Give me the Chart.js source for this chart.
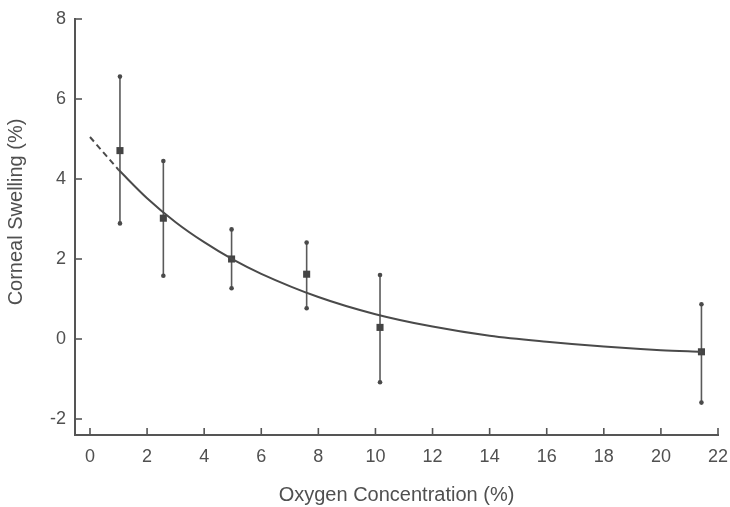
<!DOCTYPE html>
<html>
<head>
<meta charset="utf-8">
<script src="https://cdn.jsdelivr.net/npm/chart.js@4"></script>
<style>
  html, body { margin: 0; padding: 0; background: #ffffff; }
  #c { display: block; }
</style>
</head>
<body>
<canvas id="c" width="730" height="507"></canvas>
<script>
// ---- data ----
const oxygen   = [1.05, 2.57, 4.96, 7.59, 10.16, 21.42];
const swelling = [4.71, 3.02, 2.00, 1.62, 0.29, -0.32];
const errHigh  = [6.56, 4.45, 2.74, 2.41, 1.60, 0.87];
const errLow   = [2.89, 1.58, 1.27, 0.77, -1.08, -1.59];

// fitted curve
const fitX      = [1, 2, 3, 4, 5, 6, 8, 10, 12, 14, 16, 18, 20, 21.42];
const fitY      = [4.23, 3.52, 2.92, 2.42, 1.99, 1.63, 1.05, 0.62, 0.31, 0.08, -0.07, -0.19, -0.28, -0.32];
const dashX     = [0, 1];
const dashY     = [5.05, 4.23];

const xTicks = [0, 2, 4, 6, 8, 10, 12, 14, 16, 18, 20, 22];
const yTicks = [-2, 0, 2, 4, 6, 8];

const xTitle = 'Oxygen Concentration (%)';
const yTitle = 'Corneal Swelling (%)';

// ---- styling ----
const INK = '#4a4a4a';
const TEXT = '#505050';
const FONT = "'Liberation Sans', Arial, Helvetica, sans-serif";

const toPts = (xs, ys) => xs.map((x, i) => ({ x: x, y: ys[i] }));

const errorBars = {
  id: 'errorBars',
  beforeDatasetsDraw(chart) {
    const { ctx, scales: { x, y } } = chart;
    ctx.save();
    ctx.strokeStyle = '#5a5a5a';
    ctx.fillStyle = '#4a4a4a';
    ctx.lineWidth = 1.6;
    oxygen.forEach((ox, i) => {
      const px = x.getPixelForValue(ox);
      const pTop = y.getPixelForValue(errHigh[i]);
      const pBot = y.getPixelForValue(errLow[i]);
      ctx.beginPath();
      ctx.moveTo(px, pTop);
      ctx.lineTo(px, pBot);
      ctx.stroke();
      [pTop, pBot].forEach(py => {
        ctx.beginPath();
        ctx.arc(px, py, 2.3, 0, Math.PI * 2);
        ctx.fill();
      });
    });
    ctx.restore();
  }
};

const inwardTicks = {
  id: 'inwardTicks',
  afterDraw(chart) {
    const { ctx, chartArea: a, scales: { x, y } } = chart;
    ctx.save();
    ctx.strokeStyle = '#555';
    ctx.lineWidth = 1.6;
    x.ticks.forEach(t => {
      const px = x.getPixelForValue(t.value);
      ctx.beginPath();
      ctx.moveTo(px, a.bottom);
      ctx.lineTo(px, a.bottom - 7);
      ctx.stroke();
    });
    y.ticks.forEach(t => {
      const py = y.getPixelForValue(t.value);
      ctx.beginPath();
      ctx.moveTo(a.left, py);
      ctx.lineTo(a.left + 7, py);
      ctx.stroke();
    });
    // y-axis title
    ctx.fillStyle = TEXT;
    ctx.font = '20px ' + FONT;
    ctx.textAlign = 'center';
    ctx.textBaseline = 'middle';
    ctx.translate(16, 212);
    ctx.rotate(-Math.PI / 2);
    ctx.fillText(yTitle, 0, 0);
    ctx.restore();
  }
};

new Chart(document.getElementById('c'), {
  type: 'scatter',
  data: {
    datasets: [
      {
        type: 'line',
        data: toPts(fitX, fitY),
        borderColor: INK,
        borderWidth: 2,
        pointRadius: 0,
        fill: false,
        cubicInterpolationMode: 'monotone'
      },
      {
        type: 'line',
        data: toPts(dashX, dashY),
        borderColor: INK,
        borderWidth: 2,
        borderDash: [6, 4],
        pointRadius: 0,
        fill: false
      },
      {
        data: toPts(oxygen, swelling),
        pointStyle: 'rect',
        pointRadius: 5,
        backgroundColor: '#444',
        borderColor: '#444',
        borderWidth: 0
      }
    ]
  },
  options: {
    responsive: false,
    devicePixelRatio: 1,
    animation: false,
    layout: { padding: { top: 19, right: 12, left: 0, bottom: 0 } },
    plugins: { legend: { display: false }, tooltip: { enabled: false } },
    scales: {
      x: {
        type: 'linear',
        min: -0.525,
        max: 22,
        afterBuildTicks: s => { s.ticks = xTicks.map(v => ({ value: v })); },
        afterFit: s => { s.height = 72; s.paddingLeft = 0; s.paddingRight = 0; },
        grid: { drawOnChartArea: false, drawTicks: false },
        border: { display: true, color: '#555', width: 2 },
        ticks: { color: TEXT, font: { family: FONT, size: 18 }, padding: 11, maxRotation: 0, autoSkip: false },
        title: { display: true, text: xTitle, color: TEXT, font: { family: FONT, size: 20 }, padding: { top: 0, bottom: 0 } }
      },
      y: {
        type: 'linear',
        min: -2.4,
        max: 8,
        afterBuildTicks: s => { s.ticks = yTicks.map(v => ({ value: v })); },
        afterFit: s => { s.width = 75; s.paddingTop = 0; s.paddingBottom = 0; },
        grid: { drawOnChartArea: false, drawTicks: false },
        border: { display: true, color: '#555', width: 2 },
        ticks: { color: TEXT, font: { family: FONT, size: 18 }, padding: 9, autoSkip: false }
      }
    }
  },
  plugins: [errorBars, inwardTicks]
});
</script>
</body>
</html>
